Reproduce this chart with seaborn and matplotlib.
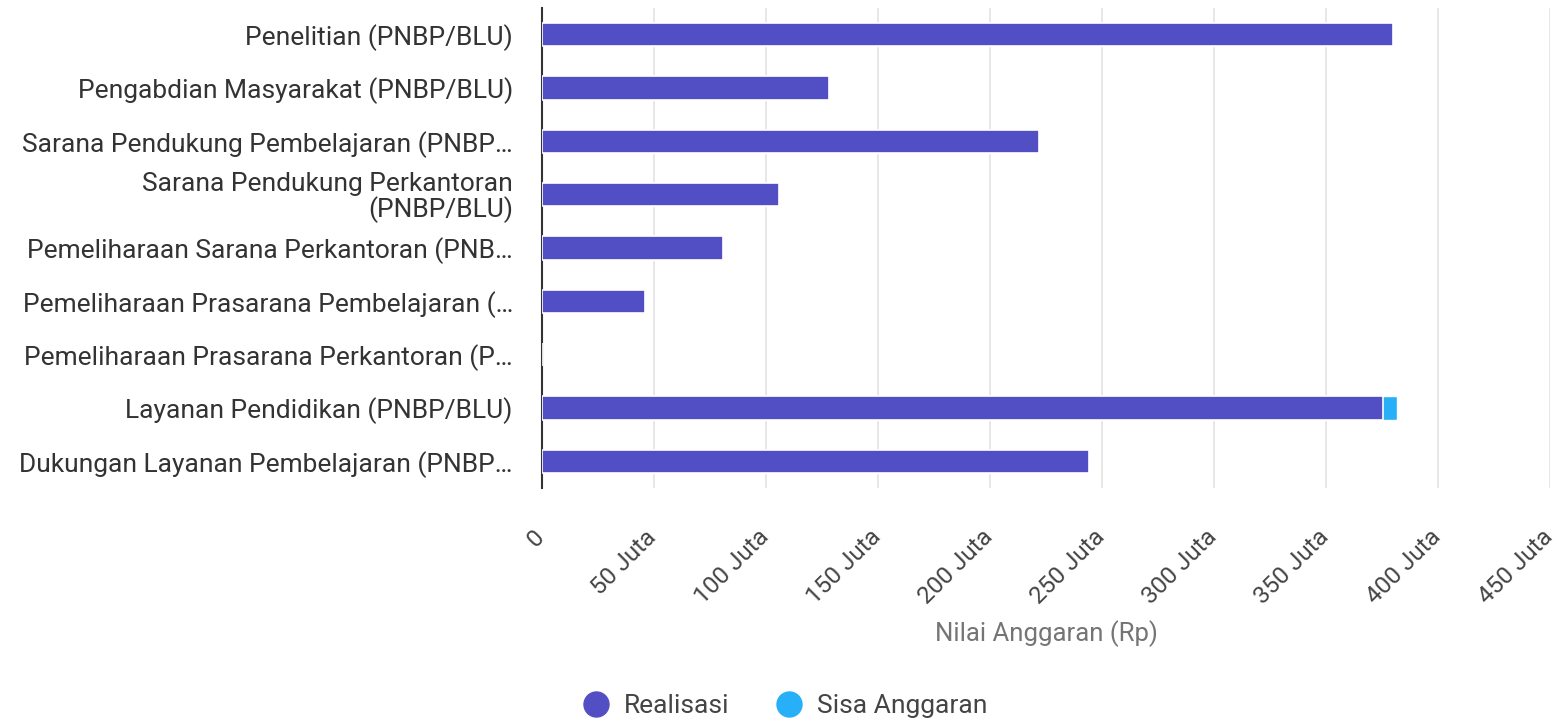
import matplotlib
matplotlib.use("Agg")
import matplotlib.pyplot as plt
import matplotlib.transforms as mtransforms
import numpy as np
import pandas as pd
import seaborn as sns
from matplotlib.lines import Line2D
from matplotlib.ticker import FuncFormatter, MultipleLocator


# Data anggaran (dalam Rupiah).
kategori = [
    "Penelitian (PNBP/BLU)",
    "Pengabdian Masyarakat (PNBP/BLU)",
    "Sarana Pendukung Pembelajaran (PNBP…",
    "Sarana Pendukung Perkantoran\n(PNBP/BLU)",
    "Pemeliharaan Sarana Perkantoran (PNB…",
    "Pemeliharaan Prasarana Pembelajaran (…",
    "Pemeliharaan Prasarana Perkantoran (P…",
    "Layanan Pendidikan (PNBP/BLU)",
    "Dukungan Layanan Pembelajaran (PNBP…",
]
realisasi = [380e6, 128e6, 222e6, 106e6, 81e6, 46e6, 0, 375.5e6, 244e6]
sisa_anggaran = [0, 0, 0, 0, 0, 0, 0, 6e6, 0]

WARNA_REALISASI = "#524fc4"
WARNA_SISA = "#27aff7"

df = pd.DataFrame({"Kategori": kategori, "Realisasi": realisasi, "Sisa": sisa_anggaran})
df["Total"] = df["Realisasi"] + df["Sisa"]

sns.set_theme(style="white")
plt.rcParams["font.family"] = ["Roboto", "DejaVu Sans"]

fig = plt.figure(figsize=(15.57, 7.25), dpi=100)
ax = fig.add_axes([542 / 1557, 1 - 488 / 725, (1550 - 542) / 1557, 480 / 725])

# Bar bertumpuk: total (sisa) di belakang, realisasi di depan.
sns.barplot(data=df, x="Total", y="Kategori", color=WARNA_SISA, width=0.44,
            saturation=1, ax=ax, zorder=2)
sns.barplot(data=df, x="Realisasi", y="Kategori", color=WARNA_REALISASI, width=0.44,
            saturation=1, ax=ax, zorder=3, edgecolor="white", linewidth=1.2)

ax.set_xlim(0, 450e6)
ax.xaxis.set_major_locator(MultipleLocator(50e6))
ax.xaxis.set_major_formatter(
    FuncFormatter(lambda v, _: "0" if v == 0 else f"{v / 1e6:.0f} Juta")
)
ax.grid(axis="x", color="#e3e3e3", linewidth=1.2, zorder=0)
ax.set_axisbelow(True)

for side in ["top", "right", "bottom"]:
    ax.spines[side].set_visible(False)
ax.spines["left"].set_color("#333333")
ax.spines["left"].set_linewidth(1.5)

ax.tick_params(axis="y", length=0, pad=21, labelsize=19, labelcolor="#333333")
ax.tick_params(axis="x", length=0, pad=27, labelsize=17.5, labelcolor="#444444")
geser = mtransforms.ScaledTranslation(-9 / 100, 0, fig.dpi_scale_trans)
for lbl in ax.get_xticklabels():
    lbl.set_rotation(45)
    lbl.set_ha("right")
    lbl.set_rotation_mode("anchor")
    lbl.set_transform(lbl.get_transform() + geser)
for lbl in ax.get_yticklabels():
    lbl.set_linespacing(1.0)

ax.set_ylabel("")
ax.set_xlabel("Nilai Anggaran (Rp)", fontsize=18.5, color="#757575", labelpad=8)

handles = [
    Line2D([], [], marker="o", linestyle="", markersize=18, color=WARNA_REALISASI),
    Line2D([], [], marker="o", linestyle="", markersize=18, color=WARNA_SISA),
]
fig.legend(handles, ["Realisasi", "Sisa Anggaran"], loc="center",
           bbox_to_anchor=(0.5, 1 - 706 / 725), ncol=2, frameon=False,
           fontsize=19, labelcolor="#444444", handletextpad=0.05, columnspacing=1.25)

fig.savefig("out.png", dpi=100)
plt.close(fig)
